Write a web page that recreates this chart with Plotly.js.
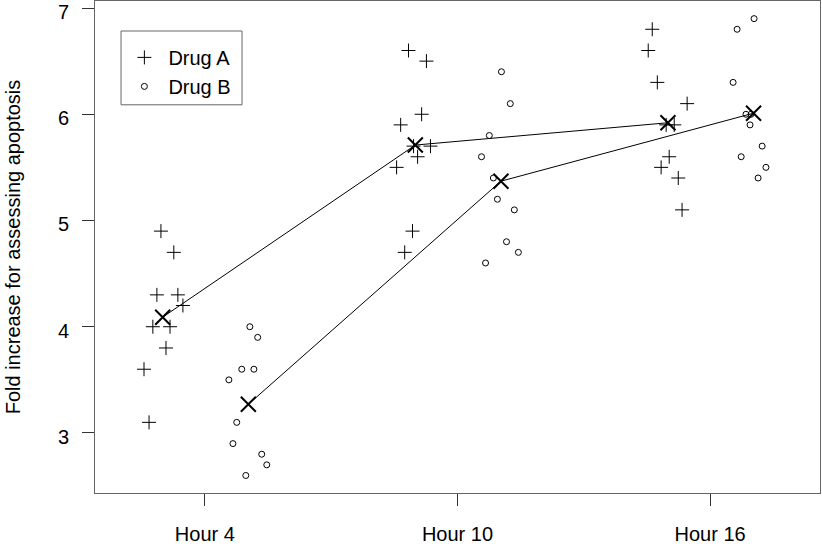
<!DOCTYPE html>
<html>
<head>
<meta charset="utf-8">
<script src="https://cdn.plot.ly/plotly-3.0.1.min.js"></script>
<style>
  html, body { margin: 0; padding: 0; background: #fff; }
  #chart { width: 822px; height: 550px; }
</style>
</head>
<body>
<div id="chart"></div>
<script>
const hours = ['Hour 4', 'Hour 10', 'Hour 16'];

// jittered x positions and values
const drugAx = [
  0.826, 0.877, 0.810, 0.893, 0.913, 0.794, 0.862, 0.846, 0.759, 0.779,
  1.806, 1.877, 1.858, 1.775, 1.893, 1.842, 1.759, 1.822, 1.791, 1.826,
  2.771, 2.755, 2.791, 2.909, 2.858, 2.838, 2.806, 2.874, 2.889, 2.826
];
const drugAy = [
  4.9, 4.7, 4.3, 4.3, 4.2, 4.0, 4.0, 3.8, 3.6, 3.1,
  6.6, 6.5, 6.0, 5.9, 5.7, 5.6, 5.5, 4.9, 4.7, 5.7,
  6.8, 6.6, 6.3, 6.1, 5.9, 5.6, 5.5, 5.4, 5.1, 5.9
];
const drugBx = [
  1.178, 1.209, 1.146, 1.194, 1.095, 1.126, 1.111, 1.225, 1.245, 1.162,
  2.174, 2.209, 2.126, 2.095, 2.142, 2.158, 2.225, 2.194, 2.241, 2.111,
  3.174, 3.107, 3.091, 3.142, 3.158, 3.206, 3.123, 3.221, 3.190, 3.162
];
const drugBy = [
  4.0, 3.9, 3.6, 3.6, 3.5, 3.1, 2.9, 2.8, 2.7, 2.6,
  6.4, 6.1, 5.8, 5.6, 5.4, 5.2, 5.1, 4.8, 4.7, 4.6,
  6.9, 6.8, 6.3, 6.0, 5.9, 5.7, 5.6, 5.5, 5.4, 6.0
];

function groupMeans(y) {
  const out = [];
  for (let g = 0; g < 3; g++) {
    let s = 0;
    for (let i = g * 10; i < g * 10 + 10; i++) s += y[i];
    out.push(s / 10);
  }
  return out;
}

const meanA = groupMeans(drugAy);
const meanB = groupMeans(drugBy);
const pos = [1, 2, 3];

const font = { family: 'Liberation Sans, Arial, sans-serif', size: 20, color: '#000' };
const frame = '#666';

const traces = [
  {
    x: drugAx, y: drugAy, mode: 'markers', name: 'Drug A',
    marker: { symbol: 'cross-thin-open', size: 10, color: '#000', line: { width: 1, color: '#000' } }
  },
  {
    x: drugBx, y: drugBy, mode: 'markers', name: 'Drug B',
    marker: { symbol: 'circle-open', size: 6, color: '#000', line: { width: 1, color: '#000' } }
  },
  {
    x: pos.map(p => p - 0.167), y: meanA, mode: 'lines+markers', showlegend: false,
    line: { color: '#000', width: 1 },
    marker: { symbol: 'x-thin-open', size: 15, color: '#000', line: { width: 2, color: '#000' } }
  },
  {
    x: pos.map(p => p + 0.172), y: meanB, mode: 'lines+markers', showlegend: false,
    line: { color: '#000', width: 1 },
    marker: { symbol: 'x-thin-open', size: 15, color: '#000', line: { width: 2, color: '#000' } }
  }
];

const layout = {
  width: 822, height: 550,
  margin: { l: 95, r: 2, t: 1, b: 57 },
  paper_bgcolor: '#fff', plot_bgcolor: '#fff',
  font: font,
  showlegend: true,
  legend: {
    x: 0.035, y: 0.925, xanchor: 'left', yanchor: 'top',
    borderwidth: 0, bgcolor: 'rgba(0,0,0,0)',
    font: font, tracegroupgap: 0, itemwidth: 38
  },
  shapes: [{
    type: 'rect', xref: 'paper', yref: 'paper',
    x0: 0.0359, x1: 0.2028, y0: 0.789, y1: 0.939,
    line: { color: frame, width: 1 }, fillcolor: 'rgba(0,0,0,0)'
  }],
  xaxis: {
    range: [0.565, 3.435], tickvals: pos, ticktext: hours,
    showgrid: false, zeroline: false, showline: true, mirror: true,
    linecolor: frame, linewidth: 1,
    ticks: 'outside', ticklen: 12, tickcolor: '#333', tickfont: font,
    ticklabelstandoff: 11
  },
  yaxis: {
    range: [2.435, 7.066], tickvals: [3, 4, 5, 6, 7],
    showgrid: false, zeroline: false, showline: true, mirror: true,
    linecolor: frame, linewidth: 1,
    ticks: 'outside', ticklen: 12, tickcolor: '#333', tickfont: font,
    ticklabelstandoff: 9, ticklabelshift: 4, ticklabeloverflow: 'allow',
    title: { text: 'Fold increase for assessing apoptosis', font: font, standoff: 31 }
  }
};

Plotly.newPlot('chart', traces, layout, { displayModeBar: false, staticPlot: true });
</script>
</body>
</html>
